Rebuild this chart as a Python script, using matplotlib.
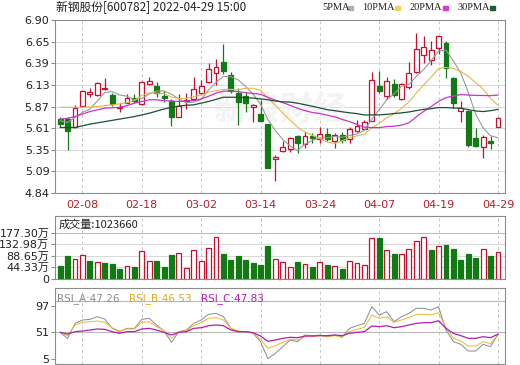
import numpy as np
import matplotlib.pyplot as plt

plt.rcParams['font.family'] = ['DejaVu Sans', 'Noto Sans CJK SC']

# trading days shown (2022)
dates = ['01-27', '01-28', '02-07', '02-08', '02-09', '02-10', '02-11', '02-14', '02-15', '02-16',
         '02-17', '02-18', '02-21', '02-22', '02-23', '02-24', '02-25', '02-28', '03-01', '03-02',
         '03-03', '03-04', '03-07', '03-08', '03-09', '03-10', '03-11', '03-14', '03-15', '03-16',
         '03-17', '03-18', '03-21', '03-22', '03-23', '03-24', '03-25', '03-28', '03-29', '03-30',
         '03-31', '04-01', '04-06', '04-07', '04-08', '04-11', '04-12', '04-13', '04-14', '04-15',
         '04-18', '04-19', '04-20', '04-21', '04-22', '04-25', '04-26', '04-27', '04-28', '04-29']

opens = [5.717, 5.717, 5.622, 5.876, 6.019, 6.007, 6.078, 6.007, 5.848, 5.916,
         5.975, 5.900, 6.138, 6.114, 5.995, 5.940, 5.749, 5.940, 5.959, 6.035,
         6.162, 6.273, 6.396, 6.245, 6.027, 5.995, 5.868, 5.777, 5.662, 5.241,
         5.344, 5.360, 5.523, 5.424, 5.519, 5.479, 5.539, 5.463, 5.531, 5.479,
         5.578, 5.598, 5.701, 6.114, 5.999, 6.138, 5.959, 6.098, 6.285, 6.487,
         6.424, 6.563, 6.622, 6.205, 5.820, 5.820, 5.491, 5.384, 5.455, 5.630]
highs = [5.749, 5.749, 5.888, 6.067, 6.086, 6.158, 6.205, 6.035, 5.908, 6.019,
         6.019, 6.174, 6.217, 6.158, 6.059, 5.955, 6.019, 6.027, 6.217, 6.186,
         6.384, 6.432, 6.614, 6.277, 6.086, 6.047, 5.900, 5.947, 5.662, 5.293,
         5.459, 5.511, 5.531, 5.562, 5.551, 5.630, 5.610, 5.551, 5.562, 5.622,
         5.709, 5.709, 6.277, 6.297, 6.217, 6.194, 6.146, 6.404, 6.749, 6.713,
         6.654, 6.713, 6.654, 6.217, 5.940, 5.828, 5.610, 5.531, 5.519, 5.749]
lows = [5.622, 5.352, 5.610, 5.860, 5.979, 5.995, 6.067, 5.876, 5.809, 5.908,
        5.916, 5.888, 6.126, 5.987, 5.928, 5.638, 5.741, 5.836, 5.947, 6.019,
        6.146, 6.126, 6.257, 6.027, 5.650, 5.809, 5.689, 5.701, 5.134, 4.987,
        5.324, 5.332, 5.320, 5.372, 5.439, 5.439, 5.463, 5.372, 5.439, 5.431,
        5.566, 5.590, 5.693, 6.027, 5.955, 5.979, 5.947, 6.082, 6.273, 6.392,
        6.364, 6.491, 6.205, 5.848, 5.689, 5.392, 5.384, 5.253, 5.360, 5.622]
closes = [5.662, 5.578, 5.848, 6.055, 6.047, 6.146, 6.086, 5.900, 5.860, 5.967,
          5.936, 6.162, 6.174, 6.035, 5.967, 5.749, 5.876, 5.947, 6.078, 6.118,
          6.313, 6.336, 6.297, 6.059, 5.928, 5.916, 5.884, 5.701, 5.142, 5.273,
          5.384, 5.491, 5.439, 5.523, 5.499, 5.539, 5.479, 5.531, 5.471, 5.598,
          5.638, 5.689, 6.186, 6.055, 6.174, 6.007, 6.138, 6.273, 6.555, 6.575,
          6.543, 6.709, 6.324, 5.908, 5.848, 5.412, 5.400, 5.511, 5.439, 5.729]

ma5 = [5.70, 5.68, 5.74, 5.80, 5.838, 5.935, 6.036, 6.047, 6.008, 5.992,
       5.950, 5.965, 6.020, 6.055, 6.055, 6.017, 5.960, 5.915, 5.923, 5.954,
       6.066, 6.158, 6.228, 6.225, 6.187, 6.107, 6.017, 5.898, 5.714, 5.583,
       5.477, 5.398, 5.346, 5.422, 5.467, 5.498, 5.496, 5.514, 5.504, 5.524,
       5.543, 5.585, 5.716, 5.833, 5.948, 6.022, 6.112, 6.129, 6.229, 6.310,
       6.417, 6.531, 6.541, 6.412, 6.266, 6.040, 5.778, 5.616, 5.522, 5.498]
ma10 = [5.86, 5.86, 5.86, 5.86, 5.865, 5.87, 5.88, 5.89, 5.90, 5.915,
        5.942, 6.001, 6.033, 6.031, 6.023, 5.984, 5.963, 5.967, 5.989, 6.004,
        6.042, 6.059, 6.072, 6.074, 6.070, 6.087, 6.088, 6.063, 5.969, 5.885,
        5.792, 5.708, 5.622, 5.568, 5.525, 5.488, 5.447, 5.430, 5.463, 5.495,
        5.521, 5.541, 5.615, 5.669, 5.736, 5.783, 5.849, 5.923, 6.031, 6.129,
        6.220, 6.322, 6.335, 6.321, 6.288, 6.229, 6.155, 6.079, 5.967, 5.885]
ma20 = [5.72, 5.73, 5.75, 5.78, 5.81, 5.83, 5.85, 5.855, 5.86, 5.88,
        5.91, 5.93, 5.95, 5.95, 5.94, 5.935, 5.93, 5.935, 5.94, 5.960,
        5.992, 6.030, 6.052, 6.053, 6.047, 6.035, 6.025, 6.015, 5.979, 5.945,
        5.917, 5.883, 5.847, 5.821, 5.798, 5.787, 5.767, 5.747, 5.716, 5.690,
        5.656, 5.624, 5.619, 5.618, 5.631, 5.635, 5.648, 5.676, 5.747, 5.812,
        5.870, 5.931, 5.975, 5.995, 6.012, 6.006, 6.002, 6.001, 5.999, 6.006]
ma30 = [5.62, 5.62, 5.62, 5.64, 5.66, 5.675, 5.69, 5.705, 5.72, 5.735,
        5.75, 5.77, 5.79, 5.815, 5.84, 5.86, 5.875, 5.885, 5.89, 5.91,
        5.93, 5.955, 5.98, 5.98, 5.98, 5.975, 5.97, 5.96, 5.95, 5.935,
        5.925, 5.923, 5.909, 5.891, 5.873, 5.853, 5.832, 5.820, 5.807, 5.795,
        5.785, 5.769, 5.770, 5.770, 5.777, 5.786, 5.794, 5.805, 5.821, 5.836,
        5.844, 5.857, 5.857, 5.852, 5.850, 5.833, 5.817, 5.810, 5.820, 5.836]

# volume in 万
vols = [49.3, 87.2, 75.8, 91.0, 68.2, 64.4, 60.6, 56.9, 39.2, 49.3,
        45.5, 106.1, 68.2, 68.2, 45.5, 91.0, 98.5, 41.7, 109.9, 68.2,
        117.5, 159.2, 94.8, 73.3, 87.2, 73.3, 61.9, 53.1, 126.3, 75.8,
        64.4, 46.7, 64.4, 55.6, 46.7, 64.4, 53.1, 49.3, 39.2, 68.2,
        60.6, 53.1, 156.7, 156.7, 109.9, 94.8, 94.8, 113.7, 144.0, 159.2,
        109.9, 125.1, 128.9, 113.7, 72.0, 94.8, 80.9, 116.2, 87.2, 102.37]

rsi_a = [50.4, 40.7, 66.5, 72.3, 73.4, 78.0, 74.0, 57.9, 52.2, 57.9,
         57.9, 73.4, 75.2, 63.7, 53.3, 33.8, 52.2, 55.0, 66.5, 72.3,
         82.0, 83.8, 78.0, 57.9, 52.2, 52.2, 49.3, 34.9, 5.5, 14.8,
         26.3, 37.8, 34.9, 46.4, 45.3, 46.4, 43.5, 46.4, 42.4, 57.9,
         62.5, 66.5, 95.3, 80.9, 86.6, 69.4, 78.0, 83.8, 92.4, 92.4,
         89.5, 95.3, 55.0, 34.9, 30.3, 18.8, 18.8, 30.3, 26.3, 47.26]
rsi_b = [51.0, 45.0, 63.7, 68.3, 69.4, 70.6, 68.3, 59.0, 53.3, 56.8,
         56.8, 68.3, 69.4, 60.8, 53.9, 40.7, 52.2, 53.9, 62.5, 67.7,
         75.2, 76.3, 72.3, 57.9, 53.3, 52.2, 50.4, 38.9, 23.4, 28.0,
         33.8, 38.9, 37.8, 43.5, 43.5, 45.3, 43.5, 45.3, 43.5, 52.2,
         56.2, 59.6, 80.9, 75.2, 77.5, 68.3, 72.3, 76.3, 82.0, 82.0,
         80.9, 84.9, 59.0, 40.7, 36.1, 27.4, 27.4, 34.9, 31.5, 46.53]
rsi_c = [51.0, 48.0, 52.2, 53.3, 55.0, 56.8, 56.2, 52.2, 49.3, 52.2,
         52.2, 56.8, 57.9, 55.0, 51.0, 46.4, 51.0, 52.2, 57.9, 59.0,
         62.5, 63.7, 62.5, 55.0, 52.2, 52.2, 50.4, 44.7, 35.5, 37.8,
         40.7, 42.4, 41.8, 44.7, 44.7, 45.3, 45.3, 46.4, 45.3, 49.3,
         51.0, 52.2, 61.9, 60.8, 62.5, 59.0, 60.8, 63.7, 66.5, 67.7,
         67.7, 71.1, 57.9, 49.3, 45.3, 40.7, 40.7, 43.5, 41.8, 47.83]

price_ticks = [4.84, 5.0975, 5.355, 5.6125, 5.87, 6.1275, 6.385, 6.6425, 6.90]
price_labels = ['4.84', '5.09', '5.35', '5.61', '5.87', '6.13', '6.39', '6.65', '6.90']
vol_ticks = [0, 44.33, 88.65, 132.98, 177.30]
vol_labels = ['0', '44.33万', '88.65万', '132.98万', '177.30万']
rsi_ticks = [5, 51, 97]

RED = '#c8102e'
GREEN = '#127a12'
GRID = '#d8d8d8'
SPINE = '#8c8c8c'

x = np.arange(len(dates))
xt = x[3::8]
xt_labels = [dates[i] for i in xt]

fig = plt.figure(figsize=(5.2, 3.65), dpi=100)
ax = fig.add_axes([55 / 520, 172 / 365, 450 / 520, 173 / 365])
axv = fig.add_axes([55 / 520, 86 / 365, 450 / 520, 63 / 365])
axr = fig.add_axes([55 / 520, 1 / 365, 450 / 520, 76 / 365])

for a in (ax, axv, axr):
    a.set_xlim(-0.7, len(dates) - 0.05)
    for s in a.spines.values():
        s.set_color(SPINE)
        s.set_linewidth(0.8)
    a.set_xticks(xt)
    a.tick_params(axis='x', length=0)
    a.tick_params(axis='y', length=3, color=SPINE, labelsize=8, pad=1, labelcolor='#222222')
    for xi in xt:
        a.axvline(xi, color='#c8c8c8', lw=0.7, ls=(0, (3, 3)), zorder=0)

# ---- price panel
ax.set_ylim(4.84, 6.90)
ax.set_yticks(price_ticks)
ax.set_yticklabels(price_labels)
for t in price_ticks[1:-1]:
    ax.axhline(t, color=GRID, lw=0.7, zorder=0)
ax.set_xticklabels(xt_labels, color='#b0212b', fontsize=8)
ax.tick_params(axis='x', pad=5)
ax.text(0.5, 0.47, '新浪财经', transform=ax.transAxes, fontsize=24, color='#f3f3f3',
        ha='center', va='center', family=['Noto Sans CJK SC'], fontweight='bold', zorder=0)

w = 0.66
for i in range(len(dates)):
    o, h, l, c = opens[i], highs[i], lows[i], closes[i]
    up = c >= o
    col = RED if up else GREEN
    ax.vlines(x[i], l, h, color=col, lw=0.9, zorder=2)
    body = max(abs(c - o), 0.008)
    ax.bar(x[i], body, w, bottom=min(o, c), color='white' if up else GREEN,
           edgecolor=col, linewidth=0.9, zorder=3)

ax.plot(x, ma5, color='#9a9a9a', lw=0.8, zorder=4)
ax.plot(x, ma10, color='#e0b850', lw=0.8, zorder=4)
ax.plot(x, ma20, color='#cc33cc', lw=0.9, zorder=4)
ax.plot(x, ma30, color='#1d4f34', lw=0.9, zorder=4)

fig.text(56 / 520, 1 - 8 / 365, '新钢股份[600782] 2022-04-29 15:00', fontsize=8.5,
         color='#222222', va='center', family=['Noto Sans CJK SC', 'DejaVu Sans'])
legend_items = [('5PMA', '#b0b0b0', 322), ('10PMA', '#f0d060', 362),
                ('20PMA', '#d040d0', 410), ('30PMA', '#1d5c3a', 457)]
for name, col, px in legend_items:
    t = fig.text(px / 520, 1 - 8 / 365, name, fontsize=7.5, color='#222222', va='center',
                 family=['Liberation Serif'])
    fig.patches.append(plt.Rectangle(((px + 6.3 * len(name) + 1) / 520, 1 - 10 / 365),
                                     5 / 520, 4 / 365, transform=fig.transFigure,
                                     color=col, figure=fig))

# ---- volume panel
axv.set_ylim(0, 240.7)
axv.set_yticks(vol_ticks)
axv.set_yticklabels(vol_labels, family=['DejaVu Sans', 'Noto Sans CJK SC'])
axv.set_xticklabels([])
for t in vol_ticks[1:]:
    axv.axhline(t, color='#b8b8b8' if t == vol_ticks[-1] else GRID, lw=0.7, zorder=0)
for i in range(len(dates)):
    prev = closes[i - 1] if i > 0 else opens[i]
    up = closes[i] > prev
    axv.bar(x[i], vols[i], w, color='white' if up else GREEN,
            edgecolor=RED if up else GREEN, linewidth=0.9, zorder=3)
axv.text(0.008, 0.87, '成交量:1023660', transform=axv.transAxes, fontsize=8,
         va='center', color='#222222', family=['Noto Sans CJK SC', 'DejaVu Sans'])

# ---- RSI panel
axr.set_ylim(-3.6, 127.5)
axr.set_yticks(rsi_ticks)
axr.set_xticklabels([])
axr.axhline(51, color='#b8b8b8', lw=0.8, zorder=0)
axr.axhline(105, color='#b8b8b8', lw=0.8, zorder=0)
axr.plot(x, rsi_a, color='#8c8c8c', lw=0.7, zorder=3)
axr.plot(x, rsi_b, color='#e8b830', lw=0.7, zorder=3)
axr.plot(x, rsi_c, color='#b01eb0', lw=0.9, zorder=4)
axr.text(0.005, 0.86, 'RSI_A:47.26', transform=axr.transAxes, fontsize=7.5, color='#8c8c8c', va='center')
axr.text(0.165, 0.86, 'RSI_B:46.53', transform=axr.transAxes, fontsize=7.5, color='#e0a820', va='center')
axr.text(0.325, 0.86, 'RSI_C:47.83', transform=axr.transAxes, fontsize=7.5, color='#b01eb0', va='center')

fig.savefig('out.png', dpi=100)
